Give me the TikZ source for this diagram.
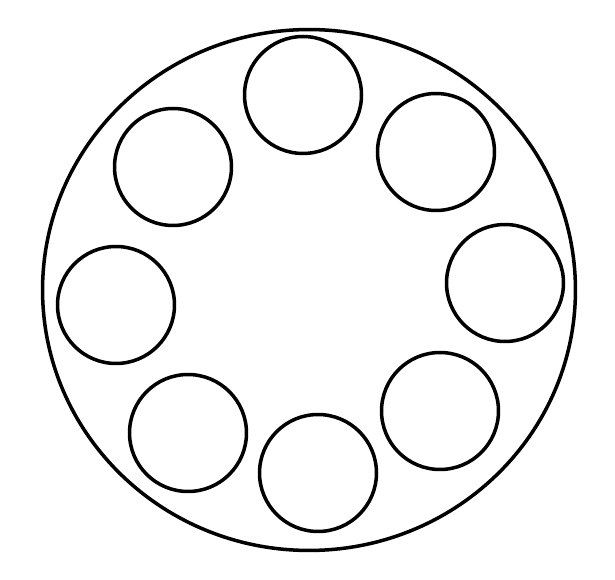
\documentclass[tikz,border=0pt]{standalone}
\usetikzlibrary{shapes.geometric}
\begin{document}
\begin{tikzpicture}[x=0.02cm,y=-0.02cm]
	\tikzstyle{outer}=[ellipse,draw=black,line width=2pt,minimum width=10.66cm,minimum height=10.42cm,inner sep=0pt]
	\tikzstyle{hole}=[circle,draw=black,line width=2pt,minimum size=2.34cm,inner sep=0pt]
	\useasboundingbox (0,0) rectangle (615,580);
	\node[outer] (disc) at (309,290) {};
	\node[hole] (h-top) at (303,95) {};
	\node[hole] (h-ur) at (436,152) {};
	\node[hole] (h-r) at (505,283) {};
	\node[hole] (h-lr) at (440,411) {};
	\node[hole] (h-bot) at (318,473) {};
	\node[hole] (h-ll) at (188,433) {};
	\node[hole] (h-l) at (116,305) {};
	\node[hole] (h-ul) at (173,167) {};
\end{tikzpicture}
\end{document}
